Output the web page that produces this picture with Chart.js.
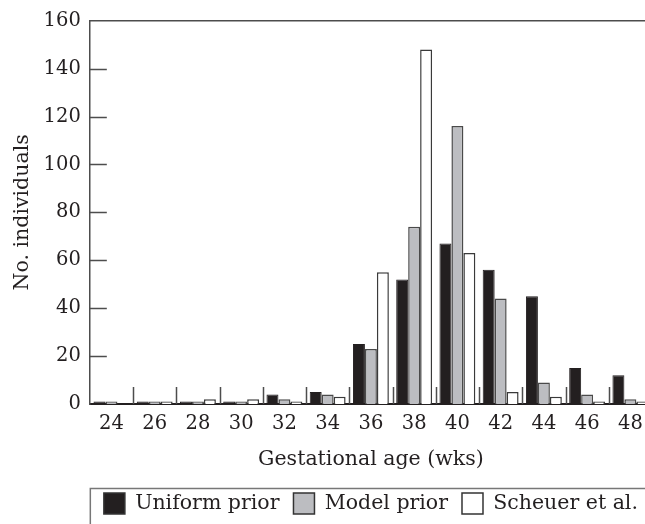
<!DOCTYPE html>
<html>
<head>
<meta charset="utf-8">
<script src="https://cdn.jsdelivr.net/npm/chart.js@4/dist/chart.umd.min.js"></script>
<style>
  html, body { margin: 0; padding: 0; background: #fff; overflow: hidden; }
  #wrap { position: relative; width: 652px; height: 524px; }
</style>
</head>
<body>
<div id="wrap"><canvas id="ageChart"></canvas></div>
<script>
var weeks = ["24", "26", "28", "30", "32", "34", "36", "38", "40", "42", "44", "46", "48"];
var uniformPrior = [1, 1, 1, 1, 4, 5, 25, 52, 67, 56, 45, 15, 12];
var modelPrior = [1, 1, 1, 1, 2, 4, 23, 74, 116, 44, 9, 4, 2];
var scheuer = [0, 1, 2, 2, 1, 3, 55, 148, 63, 5, 3, 1, 1];
var yTicks = [0, 20, 40, 60, 80, 100, 120, 140, 160];

var ink = "#231f20";
var frameColor = "#4d4d4d";
var serif = "'DejaVu Serif', serif";

// inward tick marks, category separators, top border and legend frame
var frames = {
  id: "frames",
  afterDraw: function (chart) {
    var ctx = chart.ctx;
    var area = chart.chartArea;
    var x = chart.scales.x;
    var y = chart.scales.y;
    var step = x.getPixelForTick(1) - x.getPixelForTick(0);
    ctx.save();
    ctx.strokeStyle = frameColor;
    ctx.lineWidth = 1.5;
    ctx.beginPath();
    ctx.moveTo(area.left, area.top);
    ctx.lineTo(chart.width + 5, area.top);
    yTicks.forEach(function (v) {
      if (v === 0 || v === 160) return;
      var py = Math.round(y.getPixelForValue(v)) + 0.5;
      ctx.moveTo(area.left, py);
      ctx.lineTo(area.left + 17, py);
    });
    for (var i = 0; i < weeks.length; i++) {
      var px = Math.round(x.getPixelForTick(i) + step / 2) + 0.5;
      ctx.moveTo(px, area.bottom);
      ctx.lineTo(px, area.bottom - 17);
    }
    ctx.stroke();
    var lg = chart.legend;
    ctx.strokeStyle = "#777";
    ctx.strokeRect(area.left + 0.5, lg.top + 9.5, chart.width, chart.height);
    ctx.restore();
  }
};

new Chart(document.getElementById("ageChart"), {
  type: "bar",
  data: {
    labels: weeks,
    datasets: [
      {
        label: "Uniform prior",
        data: uniformPrior,
        backgroundColor: ink,
        borderColor: ink,
        borderWidth: 1
      },
      {
        label: "Model prior",
        data: modelPrior,
        backgroundColor: "#bcbdc1",
        borderColor: "#4a4a4a",
        borderWidth: 1.5
      },
      {
        label: "Scheuer et al.",
        data: scheuer,
        backgroundColor: "#ffffff",
        borderColor: "#3a3a3a",
        borderWidth: 1.5
      }
    ]
  },
  options: {
    responsive: true,
    maintainAspectRatio: false,
    animation: false,
    layout: { padding: { top: 8, left: 0, right: 0, bottom: 0 } },
    datasets: {
      bar: { categoryPercentage: 0.83, barPercentage: 1.0 }
    },
    scales: {
      x: {
        grid: { display: false, drawTicks: false },
        border: { color: ink, width: 2 },
        ticks: { color: ink, font: { family: serif, size: 19.5 }, padding: 8 },
        title: {
          display: true,
          text: "Gestational age (wks)",
          color: ink,
          font: { family: serif, size: 20.5 },
          padding: { top: 4, bottom: 7 }
        }
      },
      y: {
        min: 0,
        max: 160,
        afterBuildTicks: function (axis) {
          axis.ticks = yTicks.map(function (v) { return { value: v }; });
        },
        grid: { display: false, drawTicks: false },
        border: { color: frameColor, width: 1.5 },
        ticks: { color: ink, font: { family: serif, size: 19.5 }, padding: 9 },
        title: {
          display: true,
          text: "No. individuals",
          color: ink,
          font: { family: serif, size: 20.5 },
          padding: { top: 10, bottom: 0 }
        }
      }
    },
    plugins: {
      legend: {
        position: "bottom",
        fullSize: false,
        labels: {
          color: ink,
          font: { family: serif, size: 20.5 },
          boxWidth: 21,
          boxHeight: 21,
          padding: 14,
          generateLabels: function (chart) {
            return chart.data.datasets.map(function (ds, i) {
              return {
                text: ds.label,
                fillStyle: ds.backgroundColor,
                strokeStyle: "#333",
                lineWidth: 1.5,
                fontColor: ink,
                datasetIndex: i
              };
            });
          }
        }
      },
      tooltip: { enabled: false }
    }
  },
  plugins: [frames]
});
</script>
</body>
</html>
